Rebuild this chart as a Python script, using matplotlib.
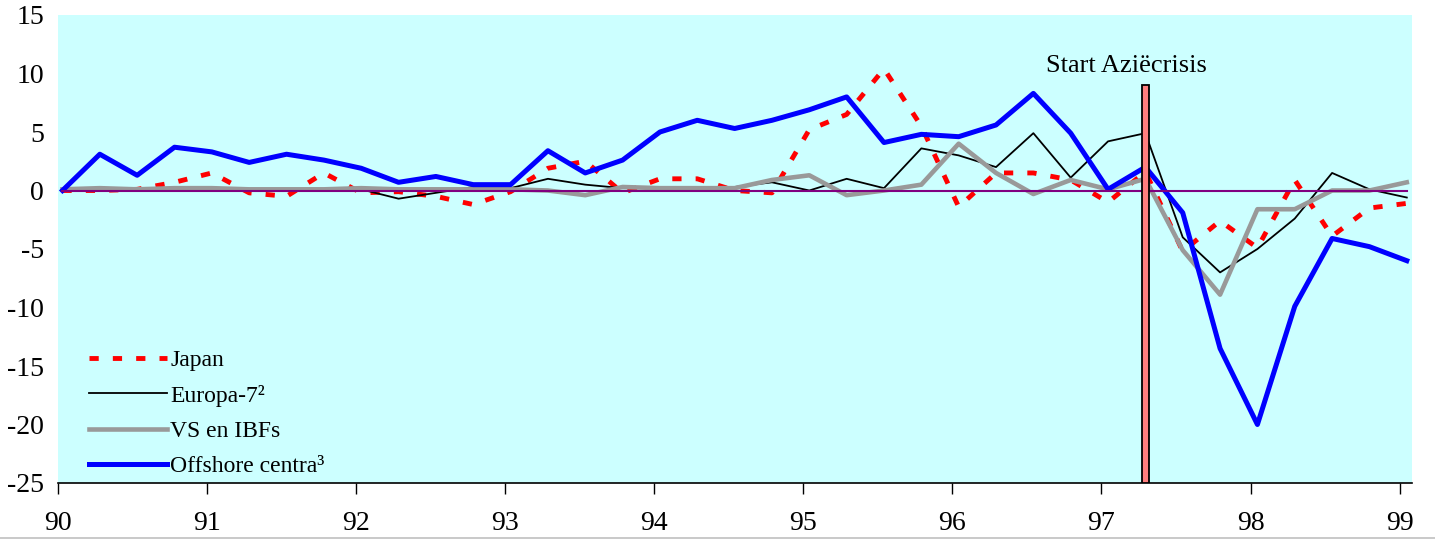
import numpy as np
import matplotlib.pyplot as plt
from matplotlib.lines import Line2D

plt.rcParams['font.family'] = ['Liberation Serif', 'DejaVu Serif']

# quarterly observations, 1990Q1 .. 1999Q1
quarters = 90.03 + 0.2505 * np.arange(37)

japan = [0.0, 0.0, 0.1, 0.7, 1.5, -0.2, -0.5, 1.5, -0.2, -0.1, -0.5, -1.2, -0.1,
         1.9, 2.5, -0.2, 1.0, 1.0, 0.0, -0.2, 5.2, 6.5, 10.4, 5.5, -1.4, 1.5,
         1.5, 0.9, -1.0, 1.6, -5.2, -2.6, -4.9, 0.9, -3.9, -1.5, -1.1]
europa = [0.0, 0.1, 0.1, 0.1, 0.1, 0.1, 0.0, 0.1, 0.1, -0.7, -0.2, 0.3, 0.2,
          1.0, 0.5, 0.2, 0.2, 0.2, 0.3, 0.7, 0.0, 1.0, 0.2, 3.6, 3.0, 2.0,
          4.9, 1.1, 4.2, 4.9, -4.0, -7.0, -5.0, -2.4, 1.5, 0.1, -0.6]
vs_ibf = [0.1, 0.2, 0.1, 0.2, 0.2, 0.1, 0.1, 0.1, 0.2, 0.1, 0.1, 0.1, 0.1,
          0.0, -0.4, 0.3, 0.2, 0.2, 0.2, 0.9, 1.3, -0.4, 0.0, 0.5, 4.0, 1.5,
          -0.3, 0.9, 0.1, 1.0, -5.1, -8.9, -1.6, -1.6, 0.0, 0.0, 0.7]
offshore = [0.0, 3.1, 1.3, 3.7, 3.3, 2.4, 3.1, 2.6, 1.9, 0.7, 1.2, 0.5, 0.5,
            3.4, 1.5, 2.6, 5.0, 6.0, 5.3, 6.0, 6.9, 8.0, 4.1, 4.8, 4.6, 5.6,
            8.3, 4.9, 0.1, 2.0, -1.9, -13.5, -20.0, -9.9, -4.1, -4.8, -6.0]
baseline = [0.0] * 37

crisis_x = quarters[29]
crisis_top = 9.0
crisis_label = "Start Aziëcrisis"

years = list(range(90, 100))
yticks = list(range(-25, 20, 5))

fig = plt.figure(figsize=(14.35, 5.39), dpi=100)
ax = fig.add_axes([58 / 1435, 1 - 483 / 539, (1412 - 58) / 1435, (483 - 15) / 539])
ax.set_facecolor('#CCFFFF')

ax.plot(quarters, japan, color='#FF0000', lw=3.5, ls=(0, (1.9, 2.9)), label='Japan')
ax.plot(quarters, europa, color='black', lw=1.3, label='Europa-7²')
ax.plot(quarters, vs_ibf, color='#999999', lw=3.3, label='VS en IBFs')
ax.plot(quarters, offshore, color='#0000FF', lw=3.6, label='Offshore centra³')
ax.plot(quarters, baseline, color='#800080', lw=1.5)

# crisis marker column
ax.bar(crisis_x, crisis_top + 25, bottom=-25, width=0.047, color='#FF7F7F',
       edgecolor='black', linewidth=1.3, zorder=5)
ax.text(97.17, 10.6, crisis_label, ha='center', va='center', fontsize=19)

ax.set_xlim(90, 99.083)
ax.set_ylim(-25, 15)
ax.set_xticks(years)
ax.set_xticklabels([str(y) for y in years], fontsize=20)
ax.set_yticks(yticks)
ax.set_yticklabels([str(v) for v in yticks], fontsize=20)
ax.tick_params(axis='x', direction='out', length=8, width=1, pad=12)
ax.tick_params(axis='y', length=0, pad=10)
for s in ['left', 'right', 'top']:
    ax.spines[s].set_visible(False)
ax.spines['bottom'].set_linewidth(1.2)

ax.legend(loc='center left', bbox_to_anchor=(0.0229, 0.149), frameon=False,
          fontsize=17, handlelength=3.3, handletextpad=0.15, labelspacing=0.58,
          borderpad=0, borderaxespad=0)

fig.add_artist(Line2D([0, 1], [1.5 / 539, 1.5 / 539], color='#C0C0C0', lw=1.2,
                      transform=fig.transFigure))

fig.savefig('out.png', dpi=100)
